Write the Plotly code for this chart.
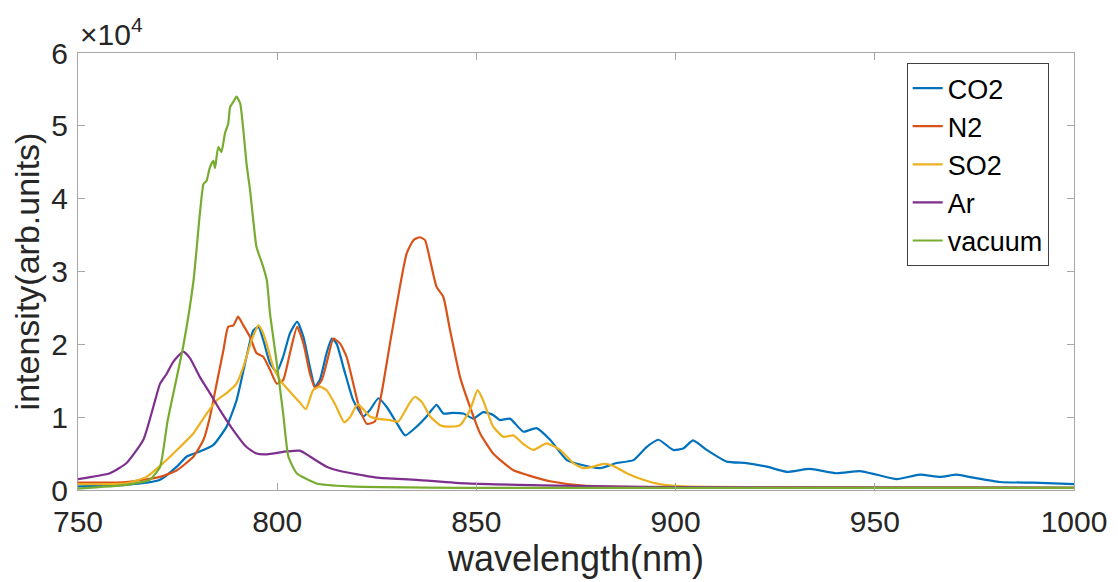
import plotly.graph_objects as go

# intensity values in units of 1e4 (arb. units), wavelength in nm
co2_x = [750, 762, 770.6, 774.8, 777.3, 780.6, 784, 787.3, 789.8, 792.3, 794, 795.3, 796.5, 798.2, 799.9,
         801.5, 803.2, 805, 806.6, 808.2, 809.5, 810.7, 812.4, 813.7, 814.9, 816.8, 819.1, 821.6, 823.3,
         825.4, 827.5, 830, 832.1, 835, 837.5, 840, 841.7, 844.2, 846.7, 849.2, 851.7, 854.2, 855.9,
         858.4, 861.8, 865.1, 868.5, 872.7, 876.8, 881, 885.2, 889.4, 892.7, 895.7, 899.4, 901.9, 904.4,
         907.8, 912.8, 917.8, 922.9, 927.9, 933.7, 940.4, 946.3, 950.5, 955.5, 961.3, 966.4, 970.5,
         974.7, 981.4, 989.8, 1000]
co2_y = [0.05, 0.07, 0.14, 0.32, 0.46, 0.53, 0.62, 0.87, 1.23, 1.83, 2.19, 2.24, 2.06, 1.74, 1.62,
         1.83, 2.15, 2.31, 2.10, 1.69, 1.42, 1.51, 1.88, 2.08, 2.01, 1.65, 1.23, 1.01, 1.10,
         1.26, 1.14, 0.92, 0.75, 0.87, 1.01, 1.17, 1.05, 1.06, 1.05, 0.98, 1.07, 1.03, 0.96,
         0.98, 0.80, 0.85, 0.69, 0.41, 0.34, 0.30, 0.37, 0.41, 0.59, 0.69, 0.55, 0.57, 0.68,
         0.55, 0.39, 0.37, 0.32, 0.25, 0.29, 0.23, 0.26, 0.21, 0.15, 0.21, 0.18, 0.21,
         0.17, 0.11, 0.10, 0.08]

n2_x = [750, 762, 770.6, 774.8, 779, 781.5, 783.1, 784.8, 786.5, 787.7, 789, 790.2, 791.5, 793.2, 794.8,
        796.5, 798.2, 799.9, 801.5, 803.2, 805, 806.6, 808.2, 809.5, 811.2, 812.8, 814.1, 815.8, 817.4,
        819.1, 820.5, 822.5, 824.5, 826.2, 828.3, 830.8, 832.5, 834.2, 835.8, 837.1, 838.4, 840, 841.7,
        843.4, 845.9, 848.4, 850.9, 854.2, 856, 859.3, 864.3, 868.5, 876.8, 890, 920, 1000]
n2_y = [0.10, 0.11, 0.18, 0.27, 0.46, 0.69, 1.0, 1.46, 1.92, 2.24, 2.26, 2.38, 2.26, 2.10, 1.88,
        1.83, 1.65, 1.46, 1.51, 1.88, 2.24, 2.01, 1.60, 1.40, 1.51, 1.83, 2.08, 2.01, 1.83,
        1.46, 1.15, 0.91, 0.94, 1.33, 2.01, 2.79, 3.25, 3.43, 3.47, 3.43, 3.15, 2.79, 2.65,
        2.19, 1.55, 1.14, 0.78, 0.50, 0.41, 0.27, 0.18, 0.12, 0.06, 0.04, 0.03, 0.03]

so2_x = [750, 762, 767.2, 771.4, 775.6, 779, 782.3, 784.8, 787.3, 789.8, 791.5, 793.6, 795.3, 796.5,
         797.8, 799, 800.7, 803.2, 805.7, 807.2, 809, 810.7, 812.4, 814.5, 816.8, 818.3, 820.2, 823.3,
         825, 828.3, 830.4, 833.4, 834.6, 836.3, 838.4, 840.9, 843.4, 845.9, 848.4, 850.3, 851.7, 854.2,
         856.8, 859.3, 861.8, 864.3, 867.6, 871, 874.3, 876.8, 879.3, 881.9, 884.4, 887.7, 891.9, 896,
         902, 920, 1000]
so2_y = [0.08, 0.09, 0.18, 0.37, 0.59, 0.78, 1.05, 1.23, 1.33, 1.46, 1.69, 2.06, 2.26, 2.15,
         1.92, 1.69, 1.51, 1.35, 1.20, 1.11, 1.37, 1.42, 1.37, 1.18, 0.93, 1.0, 1.18, 1.01,
         0.98, 0.96, 0.94, 1.21, 1.28, 1.21, 1.01, 0.89, 0.87, 0.89, 1.10, 1.37, 1.23, 0.87,
         0.73, 0.75, 0.63, 0.55, 0.64, 0.55, 0.37, 0.30, 0.32, 0.36, 0.33, 0.23, 0.14, 0.08,
         0.05, 0.04, 0.03]

ar_x = [750, 758, 762.2, 766.4, 768.9, 770.6, 772.3, 773.9, 776.4, 778.1, 780.6, 783.1, 785.6, 789,
        792.3, 794.8, 797.4, 802.4, 805.7, 808.2, 812.4, 816.6, 820.8, 825, 835, 847.6, 870, 900, 1000]
ar_y = [0.15, 0.23, 0.37, 0.69, 1.14, 1.46, 1.60, 1.76, 1.90, 1.81, 1.55, 1.33, 1.10, 0.82,
        0.59, 0.50, 0.49, 0.53, 0.54, 0.46, 0.32, 0.25, 0.21, 0.17, 0.14, 0.09, 0.06, 0.04, 0.03]

vac_x = [750, 762, 768, 770.6, 772.5, 776.4, 779, 780.6, 781.5, 782.3, 783.1, 784, 784.4, 785.2, 786,
         786.9, 787.7, 788.2, 789, 789.8, 790.7, 791.5, 792.3, 793.2, 794, 794.8, 796.5, 797.4, 798.2,
         799.9, 801.5, 802.8, 804.9, 809.9, 818, 850, 1000]
vac_y = [0.02, 0.07, 0.14, 0.32, 0.95, 1.97, 2.88, 3.8, 4.2, 4.25, 4.43, 4.52, 4.42, 4.71, 4.64,
         4.9, 5.03, 5.26, 5.33, 5.40, 5.31, 4.94, 4.48, 4.11, 3.70, 3.34, 3.06, 2.88, 2.42,
         1.74, 1.05, 0.46, 0.23, 0.09, 0.05, 0.03, 0.03]

series = [
    ("CO2", co2_x, co2_y, "#0072BD"),
    ("N2", n2_x, n2_y, "#D95319"),
    ("SO2", so2_x, so2_y, "#EDB120"),
    ("Ar", ar_x, ar_y, "#7E2F8E"),
    ("vacuum", vac_x, vac_y, "#77AC30"),
]

x_ticks = [750, 800, 850, 900, 950, 1000]
y_ticks = [0, 1, 2, 3, 4, 5, 6]

fig = go.Figure()
for name, xs, ys, col in series:
    fig.add_trace(go.Scatter(x=xs, y=ys, mode="lines", name=name,
                             line=dict(color=col, width=2.2, shape="spline", smoothing=0.5)))

font_family = "Liberation Sans, Arial, sans-serif"
axis_common = dict(
    showline=True, linecolor="#a6a6a6", linewidth=1, mirror="allticks",
    ticks="inside", ticklen=7, tickcolor="#a6a6a6", tickwidth=1,
    showgrid=False, zeroline=False,
    tickfont=dict(family=font_family, size=30, color="#262626"),
)
fig.update_xaxes(range=[750, 1000], tickvals=x_ticks, ticklabelstandoff=5,
                 title=dict(text="wavelength(nm)", font=dict(family=font_family, size=36, color="#262626"),
                            standoff=8),
                 **axis_common)
fig.update_yaxes(range=[0, 6], tickvals=y_ticks, ticklabelstandoff=3,
                 title=dict(text="intensity(arb.units)", font=dict(family=font_family, size=34, color="#262626"),
                            standoff=2),
                 **axis_common)

fig.add_annotation(text="×10<sup>4</sup>", xref="paper", yref="paper", x=0, y=1,
                   xanchor="left", yanchor="bottom", showarrow=False,
                   font=dict(family=font_family, size=30, color="#262626"))

fig.update_layout(
    width=1118, height=582,
    margin=dict(l=70, r=52, t=45, b=100, autoexpand=False),
    paper_bgcolor="white", plot_bgcolor="white",
    showlegend=True,
    legend=dict(x=0.832, y=0.977, xanchor="left", yanchor="top",
                bgcolor="white", bordercolor="#404040", borderwidth=1,
                font=dict(family=font_family, size=27, color="black"),
                tracegroupgap=0),
)

fig.write_html("out.html")
